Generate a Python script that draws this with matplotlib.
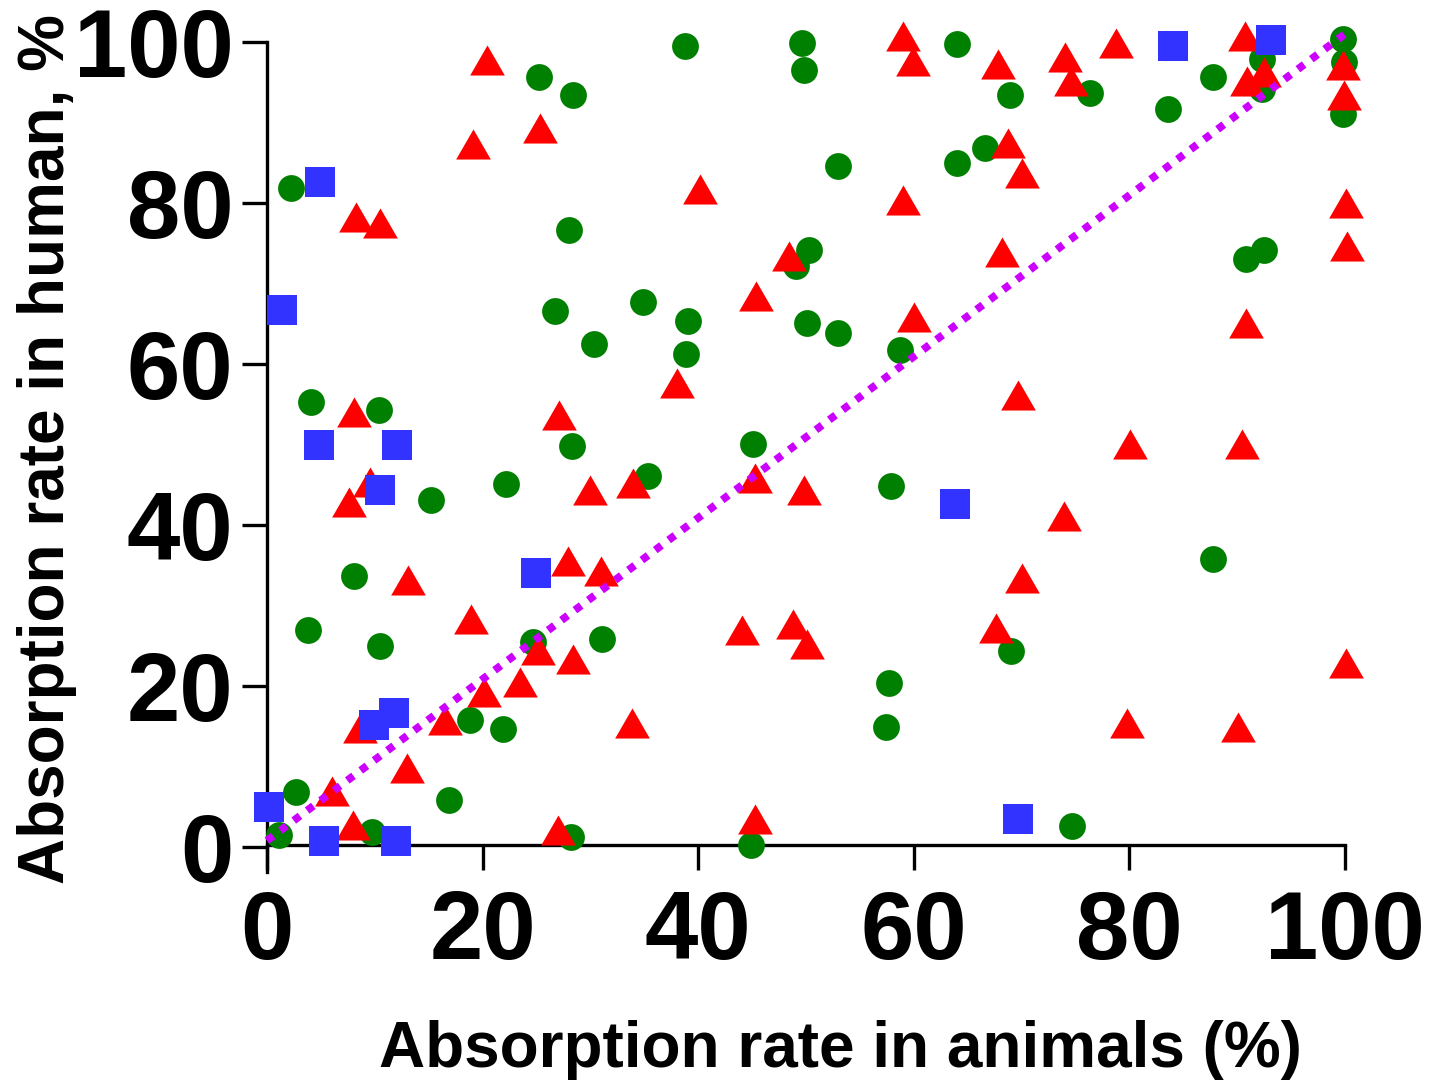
import matplotlib
matplotlib.use("Agg")
import matplotlib.pyplot as plt
from matplotlib.path import Path

plt.rcParams['font.family'] = ['Liberation Sans', 'DejaVu Sans']
plt.rcParams['font.weight'] = 'bold'

# green circles
green_x = [25.2, 28.4, 2.2, 28.0, 26.7, 34.9,
           38.8, 49.6, 49.8, 64.0, 68.9, 66.6, 64.0, 53.0, 50.3, 49.1, 39.1, 50.1,
           76.3, 83.6, 87.8, 92.3, 92.3, 99.8, 99.9, 99.8, 90.8, 92.5,
           30.3, 4.1, 10.4, 28.3, 15.2, 22.2, 35.3, 8.1,
           53.0, 38.9, 58.7, 45.1, 57.9,
           87.8,
           3.8, 10.5, 24.7, 31.1, 18.8, 21.9, 16.9, 2.7, 1.1, 9.7, 28.2,
           69.0, 57.7, 57.4, 44.9, 74.7]
green_y = [95.6, 93.4, 81.8, 76.7, 66.6, 67.7,
           99.5, 99.9, 96.5, 99.7, 93.4, 86.8, 85.0, 84.6, 74.2, 72.2, 65.3, 65.1,
           93.7, 91.7, 95.6, 97.9, 94.2, 100.4, 97.5, 91.1, 73.0, 74.1,
           62.5, 55.3, 54.3, 49.8, 43.1, 45.1, 46.1, 33.7,
           63.8, 61.3, 61.8, 50.1, 44.8,
           35.8,
           26.9, 25.0, 25.5, 25.9, 15.8, 14.6, 5.8, 6.8, 1.5, 1.9, 1.2,
           24.3, 20.4, 14.9, 0.2, 2.6]

# red triangles
red_x = [20.4, 25.3, 19.1, 8.3, 10.5,
         59.0, 59.9, 67.8, 68.7, 70.0, 40.2, 59.0, 48.4, 68.2, 45.4, 60.0,
         74.0, 74.6, 78.8, 90.7, 92.5, 90.9, 99.8, 99.9, 100.1, 100.2, 90.8,
         8.1, 27.1, 9.6, 7.6, 30.0, 34.0, 13.1, 27.9, 31.0,
         38.0, 69.7, 45.3, 49.8, 70.0,
         80.1, 90.4, 73.9,
         18.9, 25.1, 28.4, 23.5, 20.1, 16.5, 33.9, 8.6, 13.0, 6.0, 8.0, 27.0,
         44.1, 48.8, 50.1, 67.6, 45.3,
         100.1, 79.8, 90.1]
red_y = [97.8, 89.3, 87.3, 78.2, 77.5,
         100.7, 97.6, 97.3, 87.5, 83.7, 81.7, 80.4, 73.4, 73.9, 68.4, 65.8,
         98.1, 95.1, 99.9, 100.7, 96.3, 95.1, 97.2, 93.4, 80.0, 74.7, 65.1,
         54.0, 53.7, 45.4, 42.8, 44.3, 45.2, 33.2, 35.5, 34.3,
         57.6, 56.1, 45.9, 44.4, 33.4,
         50.1, 50.1, 41.1,
         28.3, 24.5, 23.4, 20.5, 19.2, 15.8, 15.4, 14.8, 9.8, 7.0, 2.7, 2.1,
         27.0, 27.7, 25.2, 27.2, 3.5,
         22.9, 15.4, 14.9]

# blue squares
blue_x = [1.4, 4.9, 4.8, 12.1, 10.5, 25.0, 9.9, 11.8, 0.2, 5.3, 12.0, 63.8, 69.7, 84.0, 93.1]
blue_y = [66.7, 82.6, 49.9, 49.9, 44.4, 34.0, 15.1, 16.6, 5.0, 0.7, 0.7, 42.6, 3.5, 99.5, 100.2]

# dotted reference line
line_x = [0, 100]
line_y = [0.8, 101]

tri = Path([(-1, -0.866), (1, -0.866), (0, 0.866), (-1, -0.866)],
           [Path.MOVETO, Path.LINETO, Path.LINETO, Path.CLOSEPOLY])

fig = plt.figure(figsize=(14.43, 10.82), dpi=100)
ax = fig.add_axes([0.1850, 0.1941, 0.9321 - 0.1850, 0.9612 - 0.1941])

ax.plot(green_x, green_y, linestyle='none', marker='o', markersize=19.3,
        color='#008000', markeredgewidth=0, clip_on=False, zorder=3)
ax.plot(red_x, red_y, linestyle='none', marker=tri, markersize=25,
        color='#ff0000', markeredgewidth=0, clip_on=False, zorder=4)
ax.plot(blue_x, blue_y, linestyle='none', marker='s', markersize=22,
        color='#3333ff', markeredgewidth=0, clip_on=False, zorder=5)
ax.plot(line_x, line_y, color='#cc00ff', linewidth=5.6, dashes=(1, 1.15),
        dash_capstyle='butt', clip_on=False, zorder=6)

ax.set_xlim(0, 100)
ax.set_ylim(-3.1, 100)
ax.spines['top'].set_visible(False)
ax.spines['right'].set_visible(False)
ax.spines['bottom'].set_position(('data', 0.3))
ax.spines['left'].set_bounds(-3.1, 100)
for s in ['left', 'bottom']:
    ax.spines[s].set_linewidth(2.4)

ax.set_xticks([0, 20, 40, 60, 80, 100])
ax.set_yticks([0, 20, 40, 60, 80, 100])
ax.tick_params(axis='both', length=18, width=2.4, labelsize=69, pad=6)
ax.tick_params(axis='x', pad=14)
for lab in ax.get_xticklabels() + ax.get_yticklabels():
    lab.set_fontweight('bold')

ax.set_xlabel('Absorption rate in animals (%)', fontsize=46, fontweight='bold')
ax.set_ylabel('Absorption rate in human, %', fontsize=46, fontweight='bold')
ax.xaxis.set_label_coords(0.532, -0.178)
ax.yaxis.set_label_coords(-0.176, 0.51)

fig.savefig('out.png', dpi=100)
